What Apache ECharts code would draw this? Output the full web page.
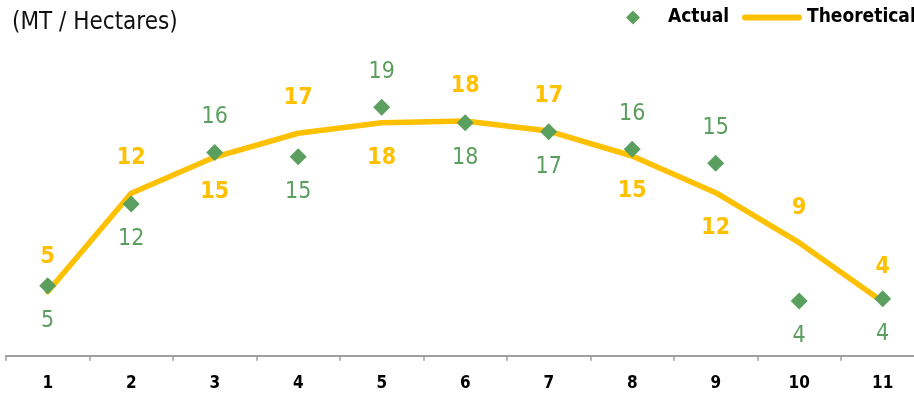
<!DOCTYPE html>
<html>
<head>
<meta charset="utf-8">
<script src="https://cdn.jsdelivr.net/npm/echarts@6/dist/echarts.min.js"></script>
<style>
html,body{margin:0;padding:0;background:#fff;}
#chart{width:914px;height:393px;}
</style>
</head>
<body>
<div id="chart"></div>
<script>
// ---- data ----
const categories = ['1','2','3','4','5','6','7','8','9','10','11'];
const actual = [5.36, 11.61, 15.55, 15.23, 19.0, 17.83, 17.14, 15.79, 14.72, 4.19, 4.36];
const theoretical = [4.9, 12.43, 15.2, 17.02, 17.83, 17.96, 17.19, 15.28, 12.47, 8.65, 4.13];
const titleText = '(MT / Hectares)';
const seriesNames = ['Actual', 'Theoretical'];

// ---- label placement (style) ----
const actualLabelSide = [1, 1, -1, 1, -1, 1, 1, -1, -1, 1, 1];      // 1 = below, -1 = above
const theoLabelSide   = [-1, -1, 1, -1, 1, -1, -1, 1, 1, -1, -1];

const FONT = '"DejaVu Sans Condensed", "DejaVu Sans", sans-serif';
const GREEN = '#5B9F5E';
const ORANGE = '#FFC000';
const OFF = 35;

const chart = echarts.init(document.getElementById('chart'), null, {renderer: 'canvas'});

chart.setOption({
  animation: false,
  backgroundColor: '#ffffff',
  textStyle: {fontFamily: FONT},
  title: {
    text: titleText,
    left: 12,
    top: 11,
    padding: 0,
    textStyle: {fontFamily: FONT, fontSize: 24, fontWeight: 'normal', color: '#111'}
  },
  legend: [
    {
      data: [{name: seriesNames[0], icon: 'path://M0,7 L0,7.01 L0.01,7 Z M60,7 L60,7.01 L59.99,7 Z M30,0 L37,7 L30,14 L23,7 Z'}],
      left: 603, top: 8, padding: 0,
      itemWidth: 60, itemHeight: 14,
      itemStyle: {color: GREEN, opacity: 1},
      textStyle: {fontFamily: FONT, fontSize: 19, fontWeight: 'bold', color: '#000'}
    },
    {
      data: [{name: seriesNames[1], icon: 'path://M3,0 H57 A3,3 0 0 1 57,6 H3 A3,3 0 0 1 3,0 Z'}],
      left: 742, top: 8, padding: 0,
      itemWidth: 60, itemHeight: 6,
      textStyle: {fontFamily: FONT, fontSize: 19, fontWeight: 'bold', color: '#000'}
    }
  ],
  grid: {left: 5.95, width: 918.5, top: 94.3, bottom: 37.3, containLabel: false, outerBoundsMode: 'none'},
  xAxis: {
    type: 'category',
    data: categories,
    boundaryGap: true,
    axisLine: {show: true, lineStyle: {color: '#9e9e9e', width: 2}},
    axisTick: {show: true, length: 5, lineStyle: {color: '#9e9e9e', width: 1.5}},
    axisLabel: {fontFamily: FONT, fontSize: 17, fontWeight: 'bold', color: '#000', margin: 19, interval: 0},
    splitLine: {show: false}
  },
  yAxis: {
    type: 'value',
    min: 0, max: 20,
    show: false,
    splitLine: {show: false}
  },
  series: [
    {
      name: seriesNames[1],
      type: 'line',
      z: 2,
      data: theoretical.map((v, i) => ({
        value: v,
        label: {offset: [0, theoLabelSide[i] * OFF]}
      })),
      symbol: 'circle',
      symbolSize: 1,
      showSymbol: true,
      itemStyle: {color: ORANGE},
      lineStyle: {color: ORANGE, width: 5.5, cap: 'round'},
      label: {
        show: true,
        position: 'inside',
        color: ORANGE,
        fontFamily: FONT,
        fontSize: 23,
        fontWeight: 'bold',
        formatter: p => Math.round(p.value)
      }
    },
    {
      name: seriesNames[0],
      type: 'scatter',
      z: 5,
      data: actual.map((v, i) => ({
        value: v,
        label: {offset: [0, actualLabelSide[i] * OFF]}
      })),
      symbol: 'diamond',
      symbolSize: 17,
      itemStyle: {color: GREEN, opacity: 1},
      label: {
        show: true,
        position: 'inside',
        color: GREEN,
        opacity: 1,
        fontFamily: FONT,
        fontSize: 23,
        fontWeight: 'normal',
        formatter: p => Math.round(p.value)
      }
    }
  ]
});
</script>
</body>
</html>
